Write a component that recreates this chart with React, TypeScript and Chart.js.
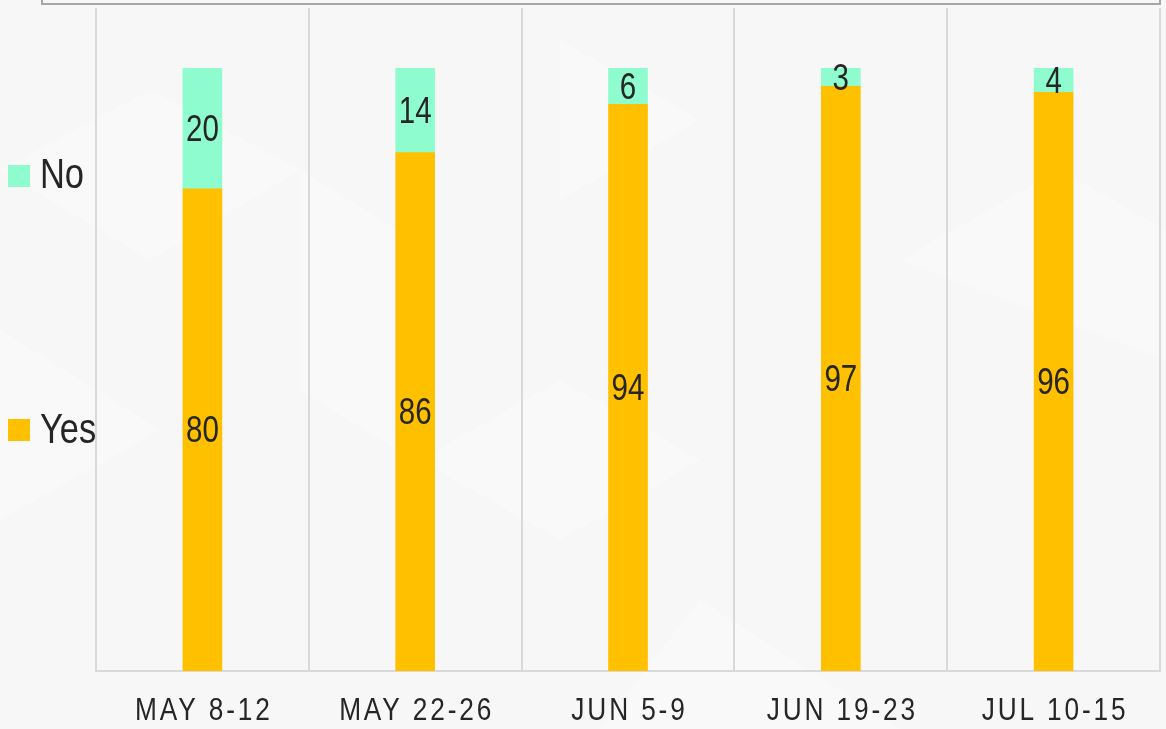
import React, { useEffect, useRef } from "react";
import { Chart, registerables } from "chart.js";

Chart.register(...registerables);

const categories = ["MAY 8-12", "MAY 22-26", "JUN 5-9", "JUN 19-23", "JUL 10-15"];
const yesValues = [80, 86, 94, 97, 96];
const noValues = [20, 14, 6, 3, 4];
const seriesNames = ["Yes", "No"];
const seriesColors = ["#FFC000", "#8FFCD0"];

const FONT = "'Liberation Sans', Arial, sans-serif";
const SQUEEZE = 0.82;

function narrowText(ctx: CanvasRenderingContext2D, text: string, x: number, y: number) {
  ctx.save();
  ctx.translate(x, y);
  ctx.scale(SQUEEZE, 1);
  ctx.fillText(text, 0, 0);
  ctx.restore();
}

const backgroundPlugin = {
  id: "bgPlugin",
  beforeDraw(chart: any) {
    const { ctx, width, height } = chart;
    ctx.save();
    ctx.fillStyle = "#f7f7f7";
    ctx.fillRect(0, 0, width, height);
    const polys: [number, number][][] = [
      [[0, 170], [150, 90], [300, 170], [150, 260]],
      [[300, 170], [430, 250], [430, 470], [300, 390]],
      [[560, 40], [700, 120], [560, 200]],
      [[0, 330], [160, 430], [0, 520]],
      [[700, 600], [900, 729], [600, 729]],
      [[900, 260], [1060, 170], [1166, 230], [1166, 360]],
      [[420, 460], [560, 380], [700, 460], [560, 540]],
    ];
    ctx.fillStyle = "rgba(255,255,255,0.3)";
    polys.forEach((p) => {
      ctx.beginPath();
      p.forEach(([x, y], i) => (i ? ctx.lineTo(x, y) : ctx.moveTo(x, y)));
      ctx.closePath();
      ctx.fill();
    });
    // top box
    ctx.strokeStyle = "#a6a6a6";
    ctx.lineWidth = 2;
    ctx.strokeRect(42, -20, 1118, 24);
    ctx.restore();
  },
};

const overlayPlugin = {
  id: "overlayPlugin",
  afterDraw(chart: any) {
    const { ctx } = chart;
    ctx.save();
    // data labels
    ctx.fillStyle = "#262626";
    ctx.font = `36px ${FONT}`;
    ctx.textAlign = "center";
    ctx.textBaseline = "middle";
    chart.data.datasets.forEach((ds: any, di: number) => {
      const meta = chart.getDatasetMeta(di);
      meta.data.forEach((el: any, i: number) => {
        const cy = (el.y + el.base) / 2;
        narrowText(ctx, String(ds.data[i]), el.x, cy + 2.5);
      });
    });
    // x labels
    const xs = chart.scales.x;
    ctx.font = `32px ${FONT}`;
    (ctx as any).letterSpacing = "3.5px";
    categories.forEach((c, i) => {
      narrowText(ctx, c, xs.getPixelForValue(i) + 1.5, 711);
    });
    (ctx as any).letterSpacing = "0px";
    // legend (No on top, Yes below)
    const legendRows = [
      { name: seriesNames[1], color: seriesColors[1], y: 176, ty: 176 },
      { name: seriesNames[0], color: seriesColors[0], y: 430, ty: 431 },
    ];
    ctx.textAlign = "left";
    ctx.font = `42px ${FONT}`;
    legendRows.forEach((r) => {
      ctx.fillStyle = r.color;
      ctx.fillRect(8, r.y - 11, 22, 22);
      ctx.fillStyle = "#262626";
      narrowText(ctx, r.name, 40, r.ty);
    });
    ctx.restore();
  },
};

export default function App() {
  const ref = useRef<HTMLCanvasElement>(null);
  useEffect(() => {
    if (!ref.current) return;
    const chart = new Chart(ref.current, {
      type: "bar",
      data: {
        labels: categories,
        datasets: [
          { label: seriesNames[0], data: yesValues, backgroundColor: seriesColors[0], borderWidth: 0 },
          { label: seriesNames[1], data: noValues, backgroundColor: seriesColors[1], borderWidth: 0 },
        ],
      },
      options: {
        animation: false,
        responsive: false,
        maintainAspectRatio: false,
        layout: { padding: { left: 96, right: 6, top: 8, bottom: 58 } },
        datasets: { bar: { barThickness: 39 } } as any,
        plugins: { legend: { display: false }, tooltip: { enabled: false } },
        scales: {
          x: {
            stacked: true,
            grid: { offset: true, color: "#d9d9d9", lineWidth: 2, drawTicks: false },
            border: { display: true, color: "#d9d9d9", width: 2 },
            ticks: { display: false },
          },
          y: {
            stacked: true,
            display: false,
            min: 0,
            max: 110,
          },
        },
      },
      plugins: [backgroundPlugin, overlayPlugin],
    });
    return () => chart.destroy();
  }, []);
  return (
    <div style={{ position: "fixed", left: 0, top: 0, width: 1166, height: 729 }}>
      <canvas ref={ref} width={1166} height={729} style={{ display: "block" }} />
    </div>
  );
}
